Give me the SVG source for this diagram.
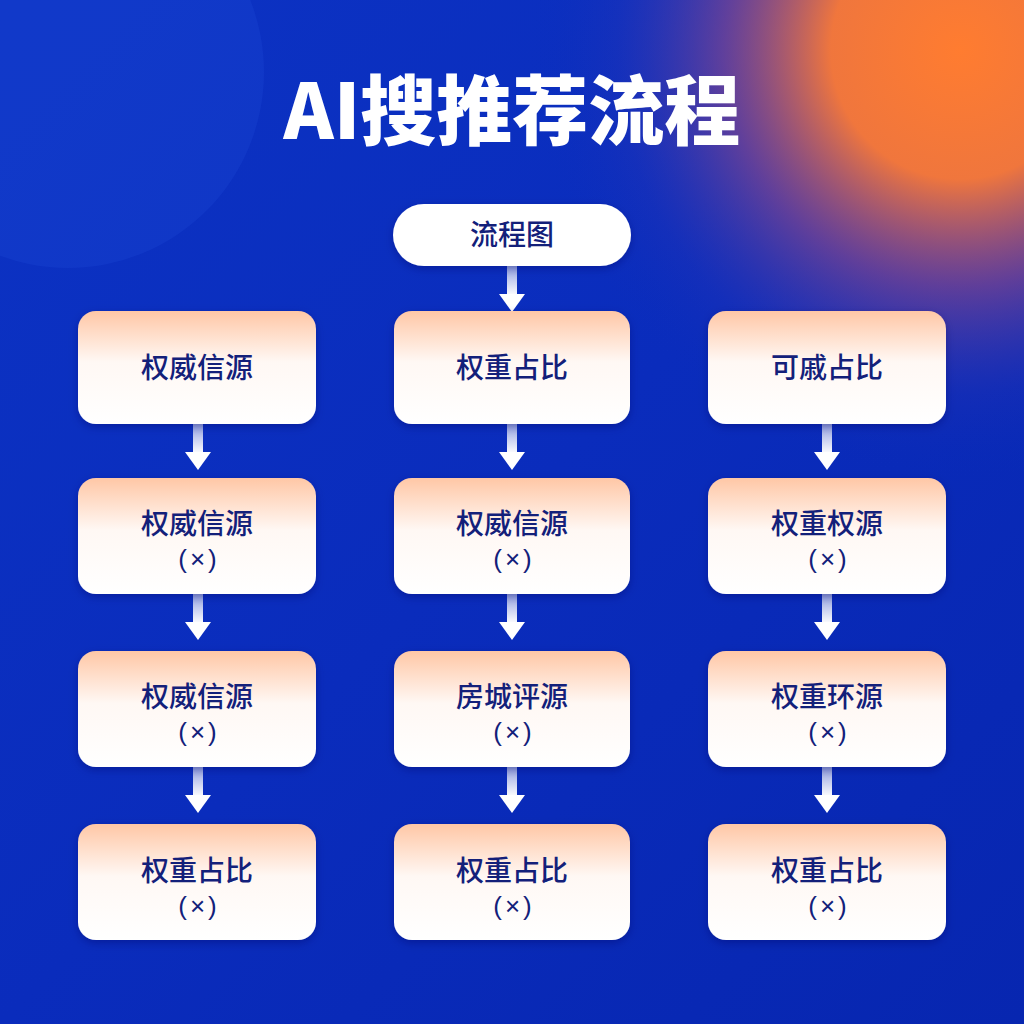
<svg xmlns="http://www.w3.org/2000/svg" width="1024" height="1024" viewBox="0 0 1024 1024">
<defs>
<linearGradient id="bg" x1="0" y1="0" x2="1" y2="1">
<stop offset="0" stop-color="#0c33c4"/>
<stop offset="0.5" stop-color="#0a2cbc"/>
<stop offset="1" stop-color="#0726b0"/>
</linearGradient>
<radialGradient id="glow" cx="960" cy="50" r="430" gradientUnits="userSpaceOnUse">
<stop offset="0" stop-color="#ff7c30"/>
<stop offset="0.3" stop-color="#fc7a36" stop-opacity="0.95"/>
<stop offset="0.55" stop-color="#a54e80" stop-opacity="0.55"/>
<stop offset="0.8" stop-color="#3a38b0" stop-opacity="0.2"/>
<stop offset="1" stop-color="#0a2cbc" stop-opacity="0"/>
</radialGradient>
<linearGradient id="card" x1="0" y1="0" x2="0" y2="1">
<stop offset="0" stop-color="#ffc7a6"/>
<stop offset="0.45" stop-color="#fff8f4"/>
<stop offset="1" stop-color="#ffffff"/>
</linearGradient>
<linearGradient id="shaft" x1="0" y1="0" x2="0" y2="1">
<stop offset="0" stop-color="#ffffff" stop-opacity="0.55"/>
<stop offset="1" stop-color="#ffffff"/>
</linearGradient>
<filter id="sh" x="-10%" y="-10%" width="120%" height="130%">
<feDropShadow dx="0" dy="3" stdDeviation="4" flood-color="#001060" flood-opacity="0.35"/>
</filter>
<g id="arrow">
<rect x="-5" y="0" width="10" height="30" fill="url(#shaft)"/>
<polygon points="-13,28 13,28 0,46" fill="#ffffff"/>
</g>
</defs>
<style>
.card{fill:url(#card);filter:url(#sh)}
.t{font-family:"Noto Sans CJK SC","Noto Sans",sans-serif;font-size:28px;font-weight:500;fill:#13207a;text-anchor:middle}
.x{font-family:"Liberation Sans","DejaVu Sans",sans-serif;font-size:26px;fill:#13207a;text-anchor:middle;letter-spacing:3px}
</style>
<rect width="1024" height="1024" fill="url(#bg)"/>
<circle cx="68" cy="72" r="196" fill="#2a55e0" fill-opacity="0.2"/>
<rect width="1024" height="1024" fill="url(#glow)"/>
<text x="512" y="139" font-family="'Noto Sans CJK SC','Noto Sans',sans-serif" font-size="76" font-weight="900" fill="#ffffff" text-anchor="middle">AI搜推荐流程</text>

<g id="connectors">
<use href="#arrow" x="512" y="266"/>
<use href="#arrow" x="198" y="424"/>
<use href="#arrow" x="512" y="424"/>
<use href="#arrow" x="827" y="424"/>
<use href="#arrow" x="198" y="594"/>
<use href="#arrow" x="512" y="594"/>
<use href="#arrow" x="827" y="594"/>
<use href="#arrow" x="198" y="767"/>
<use href="#arrow" x="512" y="767"/>
<use href="#arrow" x="827" y="767"/>
</g>

<g id="start">
<rect x="393" y="204" width="238" height="62" rx="31" fill="#ffffff" filter="url(#sh)"/>
<text class="t" x="512" y="245" font-weight="700">流程图</text>
</g>

<g id="n11"><rect class="card" x="78" y="311" width="238" height="113" rx="18"/><text class="t" x="197" y="378">权威信源</text></g>
<g id="n12"><rect class="card" x="394" y="311" width="236" height="113" rx="18"/><text class="t" x="512" y="378">权重占比</text></g>
<g id="n13"><rect class="card" x="708" y="311" width="238" height="113" rx="18"/><text class="t" x="827" y="378">可戚占比</text></g>

<g id="n21"><rect class="card" x="78" y="478" width="238" height="116" rx="18"/><text class="t" x="197" y="534">权威信源</text><text class="x" x="199" y="568">(×)</text></g>
<g id="n22"><rect class="card" x="394" y="478" width="236" height="116" rx="18"/><text class="t" x="512" y="534">权威信源</text><text class="x" x="514" y="568">(×)</text></g>
<g id="n23"><rect class="card" x="708" y="478" width="238" height="116" rx="18"/><text class="t" x="827" y="534">权重权源</text><text class="x" x="829" y="568">(×)</text></g>

<g id="n31"><rect class="card" x="78" y="651" width="238" height="116" rx="18"/><text class="t" x="197" y="707">权威信源</text><text class="x" x="199" y="741">(×)</text></g>
<g id="n32"><rect class="card" x="394" y="651" width="236" height="116" rx="18"/><text class="t" x="512" y="707">房城评源</text><text class="x" x="514" y="741">(×)</text></g>
<g id="n33"><rect class="card" x="708" y="651" width="238" height="116" rx="18"/><text class="t" x="827" y="707">权重环源</text><text class="x" x="829" y="741">(×)</text></g>

<g id="n41"><rect class="card" x="78" y="824" width="238" height="116" rx="18"/><text class="t" x="197" y="881">权重占比</text><text class="x" x="199" y="915">(×)</text></g>
<g id="n42"><rect class="card" x="394" y="824" width="236" height="116" rx="18"/><text class="t" x="512" y="881">权重占比</text><text class="x" x="514" y="915">(×)</text></g>
<g id="n43"><rect class="card" x="708" y="824" width="238" height="116" rx="18"/><text class="t" x="827" y="881">权重占比</text><text class="x" x="829" y="915">(×)</text></g>
</svg>
